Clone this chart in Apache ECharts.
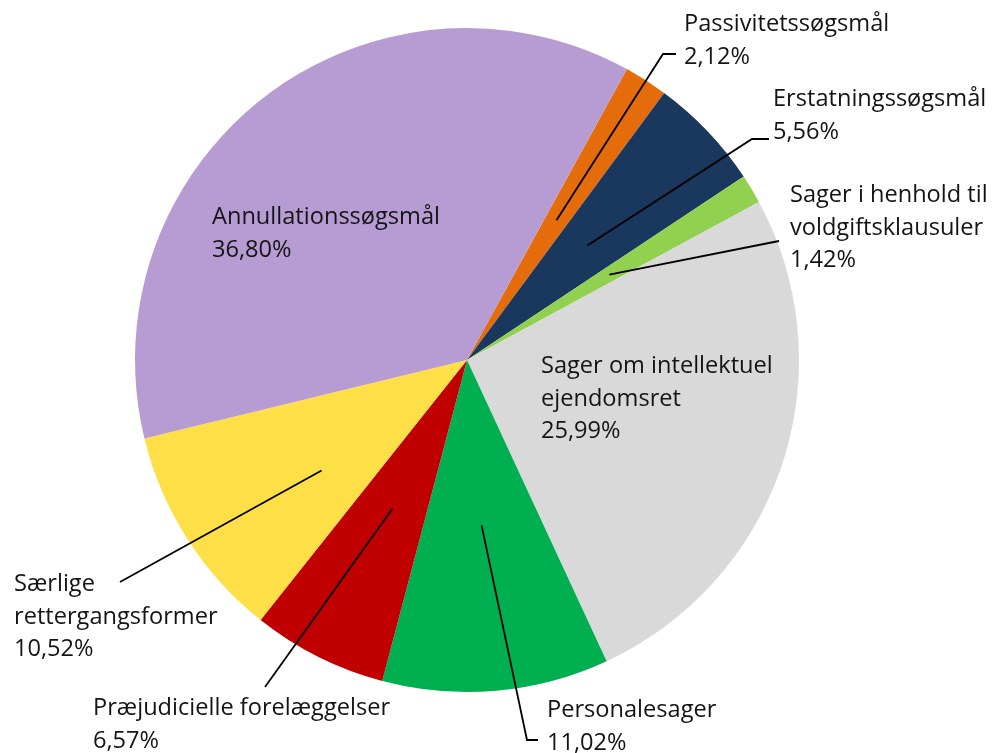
<!DOCTYPE html>
<html>
<head>
<meta charset="utf-8">
<script src="https://cdn.jsdelivr.net/npm/echarts@6/dist/echarts.min.js"></script>
<style>
html,body{margin:0;padding:0;background:#fff;}
#chart{width:992px;height:753px;}
</style>
</head>
<body>
<div id="chart"></div>
<script>
// ---- data ----
var categories = [
  'Passivitetssøgsmål',
  'Erstatningssøgsmål',
  'Sager i henhold til\nvoldgiftsklausuler',
  'Sager om intellektuel\nejendomsret',
  'Personalesager',
  'Præjudicielle forelæggelser',
  'Særlige\nrettergangsformer',
  'Annullationssøgsmål'
];
var shares = [2.12, 5.56, 1.42, 25.99, 11.02, 6.57, 10.52, 36.80];
var colors = ['#E46C0A', '#1A375E', '#92D050', '#D9D9D9', '#00B050', '#C00000', '#FFDF47', '#B79CD4'];

// ---- layout (label anchors, leader line bends) ----
var CX = 467, CY = 360, R = 332, START = 61.2;
var labelPos = [
  {x: 684, y: 41,  line: [[663, 54], [676, 54]], rf: 0.5, da: 0},
  {x: 773, y: 116, line: [[752, 139], [769, 139]], rf: 0.5, da: 0},
  {x: 790, y: 228, line: [[779, 241]], rf: 0.5, da: 0},
  {x: 541, y: 399, line: null},
  {x: 547, y: 727, line: [[527, 740], [538, 740]], rf: 0.5, da: 0},
  {x: 93,  y: 725, line: [[265, 687]], rf: 0.5, da: 0},
  {x: 14,  y: 617, line: [[120, 582]], rf: 0.55, da: 4.6},
  {x: 212, y: 234, line: null}
];

var total = shares.reduce(function (a, b) { return a + b; }, 0);
function midAngle(i) {
  var cum = 0;
  for (var k = 0; k < i; k++) cum += shares[k];
  cum += shares[i] / 2;
  return (START - cum / total * 360) * Math.PI / 180;
}

var baseData = categories.map(function (name, i) {
  return {name: name, value: shares[i], itemStyle: {color: colors[i]}};
});
var labelData = categories.map(function (name, i) {
  var item = {name: name, value: shares[i]};
  if (!labelPos[i].line) item.labelLine = {show: false};
  return item;
});

var chart = echarts.init(document.getElementById('chart'), null, {renderer: 'canvas'});
chart.setOption({
  animation: false,
  series: [{
    type: 'pie',
    z: 2,
    center: [CX, CY],
    radius: R,
    startAngle: START,
    clockwise: true,
    silent: true,
    emphasis: {disabled: true},
    label: {show: false},
    labelLine: {show: false},
    data: baseData
  }, {
    type: 'pie',
    z: 5,
    center: [CX, CY],
    radius: R,
    startAngle: START,
    clockwise: true,
    silent: true,
    avoidLabelOverlap: false,
    emphasis: {disabled: true},
    itemStyle: {color: 'rgba(0,0,0,0)'},
    data: labelData,
    label: {
      show: true,
      position: 'outside',
      fontFamily: 'Open Sans',
      fontSize: 23.6,
      lineHeight: 32.5,
      color: '#141414',
      formatter: function (p) {
        return p.name + '\n' + shares[p.dataIndex].toFixed(2).replace('.', ',') + '%';
      }
    },
    labelLine: {
      show: true,
      showAbove: true,
      smooth: false,
      lineStyle: {color: '#000', width: 1.8}
    },
    labelLayout: function (params) {
      var i = params.dataIndex;
      var lp = labelPos[i];
      var out = {x: lp.x, y: lp.y, align: 'left', verticalAlign: 'middle'};
      if (lp.line) {
        var a = midAngle(i) + lp.da * Math.PI / 180;
        var r0 = R * lp.rf;
        var p0 = [CX + r0 * Math.cos(a), CY - r0 * Math.sin(a)];
        var p1 = lp.line[0];
        var p2 = lp.line[1] || lp.line[0];
        out.labelLinePoints = [p0, p1, p2];
      }
      return out;
    }
  }]
});
</script>
</body>
</html>
